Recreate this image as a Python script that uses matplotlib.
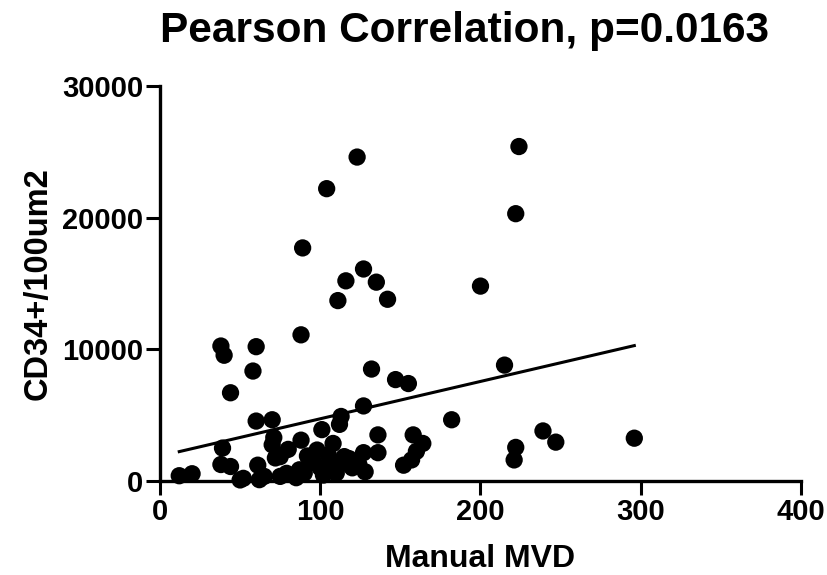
import matplotlib.pyplot as plt
import numpy as np

# values
mvd = [224, 123, 104, 222, 89, 127, 116, 135, 200, 111, 142, 88, 38, 60, 40, 58,
       215, 132, 147, 155, 44, 127, 113, 60, 70, 182, 239, 247, 296, 222, 221,
       158, 164, 160, 157, 152, 136, 112, 101, 88, 39, 38, 44, 12, 20, 52, 61,
       70, 72, 50, 62, 75, 80, 98, 108, 115, 127, 136, 120, 128, 96, 87, 79,
       102, 109, 75, 114, 71, 90, 100, 118, 110, 92, 85, 65, 105, 124]
cd34 = [25400, 24600, 22200, 20300, 17700, 16100, 15200, 15100, 14800, 13700,
        13800, 11100, 10250, 10200, 9550, 8350, 8800, 8500, 7700, 7400, 6700,
        5700, 4900, 4550, 4650, 4650, 3800, 2950, 3250, 2550, 1600, 3500, 2850,
        2250, 1600, 1200, 3500, 4300, 3900, 3100, 2500, 1250, 1100, 400, 550,
        200, 1200, 2750, 1750, 80, 100, 350, 2400, 2350, 2850, 1850, 2150, 2150,
        1000, 700, 1400, 850, 580, 450, 1100, 1850, 1350, 3300, 600, 1000, 1700,
        600, 1900, 250, 350, 2000, 1300]

# linear fit line as drawn in the reference
fit_slope = 28.35
fit_intercept = 1890

plt.rcParams['font.family'] = ['Liberation Sans', 'DejaVu Sans']
plt.rcParams['font.weight'] = 'bold'

fig = plt.figure(figsize=(8.27, 5.75), dpi=100)
ax = fig.add_axes([0.1935, 0.1635, 0.775, 0.687])

ax.scatter(mvd, cd34, s=155, c='black', edgecolors='none', zorder=3, clip_on=False)
xs = np.array([min(mvd), max(mvd)])
ax.plot(xs, fit_slope*xs + fit_intercept, color='black', lw=2.2, zorder=2)

ax.set_xlim(0, 400)
ax.set_ylim(0, 30000)
ax.set_xticks([0, 100, 200, 300, 400])
ax.set_yticks([0, 10000, 20000, 30000])

for side in ['top', 'right']:
  ax.spines[side].set_visible(False)
for side in ['left', 'bottom']:
  ax.spines[side].set_linewidth(2.4)
ax.tick_params(width=2.2, length=10, labelsize=21, pad=2)
for lab in ax.get_xticklabels() + ax.get_yticklabels():
  lab.set_fontweight('bold')

ax.set_xlabel('Manual MVD', fontsize=23, fontweight='bold', labelpad=13)
ax.set_ylabel('CD34+/100um2', fontsize=23.5, fontweight='bold', labelpad=6)
fig.text(0.562, 0.946, 'Pearson Correlation, p=0.0163', fontsize=30.5,
         fontweight='bold', ha='center', va='center')

fig.savefig('out.png', dpi=100)
